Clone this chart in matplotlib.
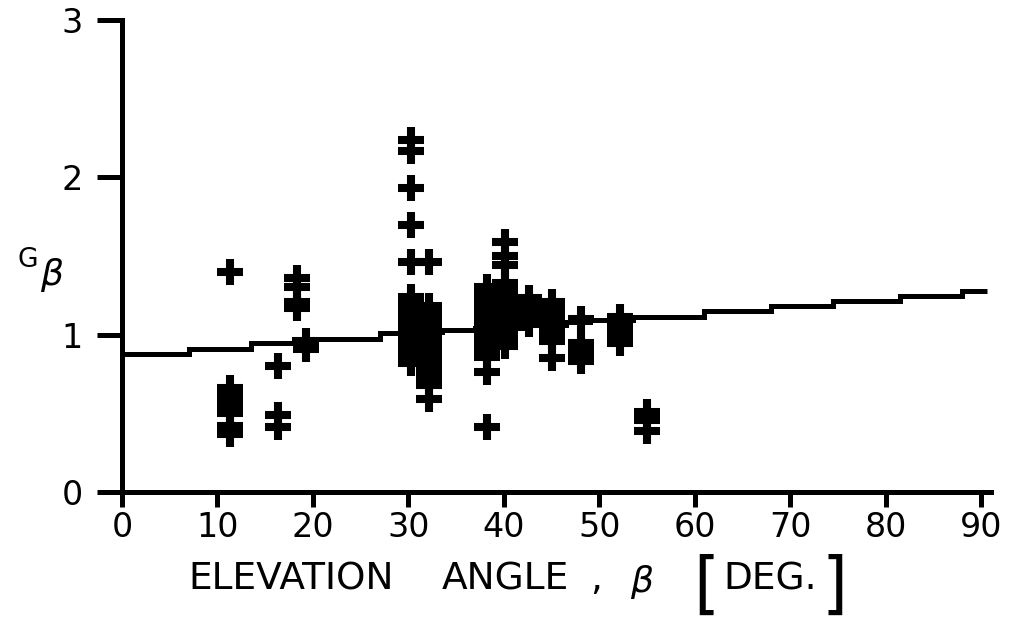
"""
G_beta versus elevation angle: step curve with measured points
"""
import matplotlib.pyplot as plt

plt.rcParams['font.family'] = ['DejaVu Sans']

W, H = 1011, 642

# step curve
step_edges = [0, 7, 13.5, 18, 27, 30, 33.5, 37, 42, 46.5, 49, 53.5, 61, 68, 74.5, 81.5, 88, 90.6]
step_g = [0.88, 0.91, 0.95, 0.97, 1.01, 1.02, 1.03, 1.045, 1.06, 1.08, 1.095, 1.115,
          1.15, 1.18, 1.215, 1.245, 1.275]

# measured points, one column per angle
col_beta = [11.3, 16.3, 18.3, 19.3, 30.3, 32.2, 38.2, 40.1, 42.6, 45.1, 48.1, 52.2, 55.0]
g_11 = [1.40, 0.66, 0.62, 0.58, 0.54, 0.50, 0.42, 0.37]
g_16 = [0.80, 0.49, 0.41]
g_18 = [1.36, 1.30, 1.21, 1.17]
g_19 = [0.96, 0.91]
g_30 = [2.24, 2.17, 1.93, 1.70, 1.46, 1.24, 1.20, 1.15, 1.10, 1.05, 1.00, 0.95, 0.90, 0.86, 0.82]
g_32 = [1.46, 1.18, 1.13, 1.08, 1.03, 0.98, 0.93, 0.88, 0.83, 0.78, 0.73, 0.68, 0.59]
g_38 = [1.30, 1.25, 1.20, 1.15, 1.10, 1.05, 1.00, 0.95, 0.90, 0.86, 0.76, 0.41]
g_40 = [1.59, 1.50, 1.44, 1.33, 1.28, 1.23, 1.18, 1.13, 1.08, 1.03, 0.98, 0.93]
g_43 = [1.23, 1.19, 1.15, 1.11, 1.07]
g_45 = [1.21, 1.16, 1.12, 1.08, 1.04, 1.00, 0.96, 0.85]
g_48 = [1.10, 0.95, 0.91, 0.87, 0.83]
g_52 = [1.11, 1.07, 1.03, 0.99, 0.95]
g_55 = [0.51, 0.46, 0.39]
col_g = [g_11, g_16, g_18, g_19, g_30, g_32, g_38, g_40, g_43, g_45, g_48, g_52, g_55]

x_ticks = [0, 10, 20, 30, 40, 50, 60, 70, 80, 90]
y_ticks = [0, 1, 2, 3]


def fx(px):
    return px / W


def fy(py):
    return 1 - py / H


fig = plt.figure(figsize=(W / 100, H / 100), dpi=100)
x0, x90, y0, y3 = 122, 981, 492, 20
xmax = 91
ax_w = (x90 - x0) / 90 * xmax
ax = fig.add_axes([fx(x0), fy(y0), ax_w / W, (y0 - y3) / H])

ax.stairs(step_g, step_edges, color='black', lw=3.6, baseline=None, clip_on=False)

for b, gs in zip(col_beta, col_g):
    ax.plot([b] * len(gs), gs, ls='none', marker='+', ms=19, mew=5.8,
            color='black', clip_on=False)

ax.set_xlim(0, xmax)
ax.set_ylim(0, 3)
ax.set_xticks(x_ticks)
ax.set_yticks(y_ticks)
ax.set_xticklabels([str(t) for t in x_ticks])
ax.set_yticklabels([str(t) for t in y_ticks])
ax.spines['top'].set_visible(False)
ax.spines['right'].set_visible(False)
for s in ['left', 'bottom']:
    ax.spines[s].set_linewidth(3.6)
ax.tick_params(axis='x', direction='out', length=11, width=3.6, pad=3, labelsize=24)
ax.tick_params(axis='y', direction='out', length=18, width=3.6, pad=10, labelsize=24)

# axis labels
fig.text(fx(28), fy(260), 'G', fontsize=19, ha='center', va='center')
fig.text(fx(52), fy(275), 'β', fontsize=26, style='italic', ha='center', va='center')

ly = fy(580)
fig.text(fx(188), ly, 'ELEVATION', fontsize=27, ha='left', va='center')
fig.text(fx(442), ly, 'ANGLE', fontsize=27, ha='left', va='center')
fig.text(fx(590), ly, ',', fontsize=27, ha='left', va='center')
fig.text(fx(642), fy(582), 'β', fontsize=26, style='italic', ha='center', va='center')
fig.text(fx(706), fy(587), '[', fontsize=48, ha='center', va='center')
fig.text(fx(723), ly, 'DEG.', fontsize=27, ha='left', va='center')
fig.text(fx(835), fy(587), ']', fontsize=48, ha='center', va='center')

fig.savefig('out.png', dpi=100)
